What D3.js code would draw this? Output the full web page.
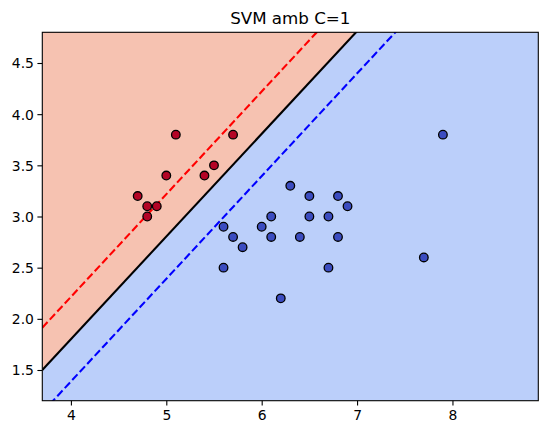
<!DOCTYPE html>
<html><head><meta charset="utf-8">
<script src="https://cdn.jsdelivr.net/npm/d3@7"></script>
<style>body{margin:0;background:#fff}svg{display:block}text{font-family:"DejaVu Sans",sans-serif;fill:#000}</style>
</head><body>
<svg id="c" width="547" height="435"></svg>
<script>
const title = "SVM amb C=1";
const xDomain = [3.7, 8.9];
const yDomain = [1.2, 4.8];
const xTicks = [4, 5, 6, 7, 8];
const yTicks = [1.5, 2.0, 2.5, 3.0, 3.5, 4.0, 4.5];
// class 0 (red)
const redX = [5.1, 5.7, 5.5, 5.4, 5.0, 4.7, 4.8, 4.9, 4.8];
const redY = [3.8, 3.8, 3.5, 3.4, 3.4, 3.2, 3.1, 3.1, 3.0];
// class 1 (blue)
const blueX = [6.3, 6.5, 6.8, 6.9, 6.1, 6.5, 6.7, 5.6, 6.0, 5.7, 6.1, 6.4, 6.8, 5.8, 5.6, 6.7, 6.2, 7.9, 7.7];
const blueY = [3.3, 3.2, 3.2, 3.1, 3.0, 3.0, 3.0, 2.9, 2.9, 2.8, 2.8, 2.8, 2.8, 2.7, 2.5, 2.5, 2.2, 3.8, 2.6];
// linear SVM decision function f = w1*x + w2*y + b
const w = [-2.427, 2.419];
const b = 5.351;
const levels = [-1, 0, 1];

const svg = d3.select("#c");
const L = 42.3, R = 538.3, T = 32.3, B = 400.7;
const x = d3.scaleLinear().domain(xDomain).range([L, R]);
const y = d3.scaleLinear().domain(yDomain).range([B, T]);

svg.append("defs").append("clipPath").attr("id", "clip")
  .append("rect").attr("x", L).attr("y", T).attr("width", R - L).attr("height", B - T);
const g = svg.append("g").attr("clip-path", "url(#clip)");

const lineY = (xv, lev) => (lev - b - w[0] * xv) / w[1];

// blue region (whole area)
g.append("rect").attr("x", x(xDomain[0])).attr("y", y(yDomain[1]))
  .attr("width", x(xDomain[1]) - x(xDomain[0])).attr("height", y(yDomain[0]) - y(yDomain[1]))
  .attr("fill", "#bbcffa");
// red region (f > 0)
const big = 20;
g.append("path").attr("fill", "#f6c2b1").attr("d", d3.line()([
  [x(xDomain[0]), y(lineY(xDomain[0], 0))],
  [x(xDomain[1]), y(lineY(xDomain[1], 0))],
  [x(xDomain[1]), y(big)],
  [x(xDomain[0]), y(big)]
]));

const lineStyles = {"-1": {c: "#0000ff", dash: "7.7,3.3"}, "0": {c: "#000000", dash: null}, "1": {c: "#ff0000", dash: "7.7,3.3"}};
levels.forEach(lev => {
  const st = lineStyles[String(lev)];
  g.append("line")
    .attr("x1", x(xDomain[0])).attr("y1", y(lineY(xDomain[0], lev)))
    .attr("x2", x(xDomain[1])).attr("y2", y(lineY(xDomain[1], lev)))
    .attr("stroke", st.c).attr("stroke-width", 2.08)
    .attr("stroke-dasharray", st.dash);
});

const pts = [];
redX.forEach((v, i) => pts.push({x: v, y: redY[i], c: "#b40426"}));
blueX.forEach((v, i) => pts.push({x: v, y: blueY[i], c: "#3b4cc0"}));
g.selectAll("circle.p").data(pts).enter().append("circle")
  .attr("cx", d => x(d.x)).attr("cy", d => y(d.y)).attr("r", 4.3)
  .attr("fill", d => d.c).attr("stroke", "#000").attr("stroke-width", 1.3);

// axes
const xa = svg.append("g").attr("transform", `translate(0,${B})`)
  .call(d3.axisBottom(x).tickValues(xTicks).tickFormat(d3.format("d")).tickSize(4.9).tickPadding(3.5));
const ya = svg.append("g").attr("transform", `translate(${L},0)`)
  .call(d3.axisLeft(y).tickValues(yTicks).tickFormat(d3.format(".1f")).tickSize(4.9).tickPadding(3.5));
[xa, ya].forEach(a => {
  a.select(".domain").remove();
  a.selectAll(".tick line").attr("stroke", "#000").attr("stroke-width", 1.1);
  a.selectAll(".tick text").attr("font-size", "13.9px").attr("font-family", "DejaVu Sans").attr("fill", "#000");
});
xa.selectAll(".tick text").attr("dy", "0.78em");
ya.selectAll(".tick text").attr("dy", "0.35em");

svg.append("rect").attr("x", L).attr("y", T).attr("width", R - L).attr("height", B - T)
  .attr("fill", "none").attr("stroke", "#000").attr("stroke-width", 1.1);

svg.append("text").attr("x", (L + R) / 2).attr("y", 24).attr("text-anchor", "middle")
  .attr("font-size", "16.7px").text(title);
</script>
</body></html>
